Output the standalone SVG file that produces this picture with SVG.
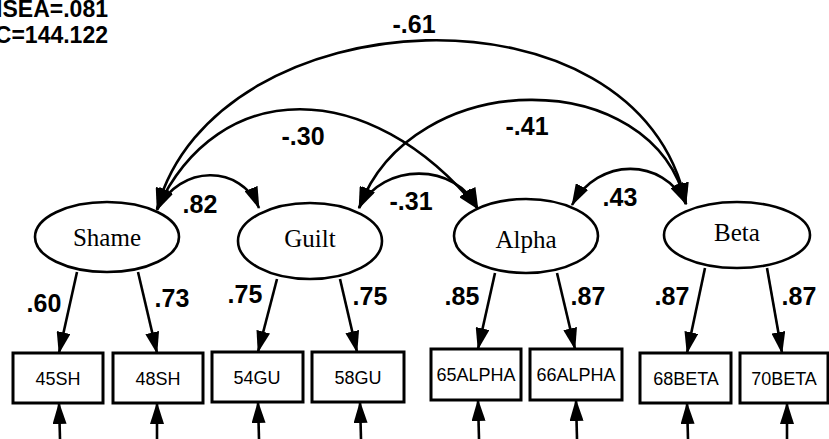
<svg xmlns="http://www.w3.org/2000/svg" width="829" height="439" viewBox="0 0 829 439">
<style>
.lat{fill:#fff;stroke:#000;stroke-width:2.6}
.obs{fill:#fff;stroke:#000;stroke-width:3}
.ln{fill:#000;font-family:"Times New Roman","Liberation Serif",serif;font-size:25px;text-anchor:middle}
.on{fill:#000;font-family:"Liberation Sans",Arial,sans-serif;font-size:18px;text-anchor:middle}
.num{fill:#000;font-family:"Liberation Sans",Arial,sans-serif;font-size:25px;font-weight:bold;text-anchor:middle}
.fit{fill:#000;font-family:"Liberation Sans",Arial,sans-serif;font-size:23px;font-weight:bold;text-anchor:end}
.c{fill:none;stroke:#000;stroke-width:2.6}
.cv{marker-start:url(#ah);marker-end:url(#ah)}
.ar{marker-end:url(#ah)}
</style>
<defs>
<marker id="ah" viewBox="0 0 22 14" refX="21" refY="7" markerWidth="22" markerHeight="14" markerUnits="userSpaceOnUse" orient="auto-start-reverse">
<path d="M0,0 L22,7 L0,14 z" fill="#000"/>
</marker>
</defs>
<rect width="829" height="439" fill="#fff"/>
<g id="fit-indices">
<text class="fit" x="108" y="17">RMSEA=.081</text>
<text class="fit" x="108" y="43">AIC=144.122</text>
</g>
<g id="connectors">
<path class="c cv" d="M157,209 C215,-5 640,-25 686,204"/>
<path class="c cv" d="M157,209 C219,76 369,76 478,209"/>
<path class="c cv" d="M359,208 C412,65 653,64 686,204"/>
<path class="c cv" d="M157,210 C180,164 241,164 259,208"/>
<path class="c cv" d="M359,208 C383,162 456,162 478,209"/>
<path class="c cv" d="M572,205 C598,157 663,157 686,204"/>
<path class="c ar" d="M77,272 L59,353"/>
<path class="c ar" d="M138,272 L157,353"/>
<path class="c ar" d="M277,279 L258,352"/>
<path class="c ar" d="M340,279 L357,352"/>
<path class="c ar" d="M495,273 L478,349"/>
<path class="c ar" d="M557,273 L575,349"/>
<path class="c ar" d="M705,268 L687,353"/>
<path class="c ar" d="M767,268 L782,353"/>
<path class="c ar" d="M60,439 L59,403"/>
<path class="c ar" d="M157,439 L157,403"/>
<path class="c ar" d="M259,439 L258,402"/>
<path class="c ar" d="M361,439 L360,402"/>
<path class="c ar" d="M479,439 L478,400"/>
<path class="c ar" d="M577,439 L576,400"/>
<path class="c ar" d="M688,439 L687,403"/>
<path class="c ar" d="M787,439 L787,403"/>
<text class="num" x="414" y="33">-.61</text>
<text class="num" x="303" y="145">-.30</text>
<text class="num" x="527" y="135">-.41</text>
<text class="num" x="200" y="213">.82</text>
<text class="num" x="411" y="210">-.31</text>
<text class="num" x="620" y="206">.43</text>
<text class="num" x="44" y="312">.60</text>
<text class="num" x="172" y="307">.73</text>
<text class="num" x="245" y="303">.75</text>
<text class="num" x="370" y="305">.75</text>
<text class="num" x="462" y="305">.85</text>
<text class="num" x="588" y="305">.87</text>
<text class="num" x="672" y="305">.87</text>
<text class="num" x="799" y="305">.87</text>
</g>
<g id="Shame"><ellipse class="lat" cx="107" cy="237" rx="72" ry="35"/><text class="ln" x="107" y="246">Shame</text></g>
<g id="Guilt"><ellipse class="lat" cx="310" cy="241" rx="72" ry="38"/><text class="ln" x="310" y="247">Guilt</text></g>
<g id="Alpha"><ellipse class="lat" cx="526" cy="236" rx="72" ry="37"/><text class="ln" x="526" y="248">Alpha</text></g>
<g id="Beta"><ellipse class="lat" cx="737" cy="235" rx="73" ry="33"/><text class="ln" x="737" y="241">Beta</text></g>
<g id="x45SH"><rect class="obs" x="13" y="353" width="90" height="50"/><text class="on" x="58" y="385">45SH</text></g>
<g id="x48SH"><rect class="obs" x="113" y="353" width="90" height="50"/><text class="on" x="158" y="385">48SH</text></g>
<g id="x54GU"><rect class="obs" x="212" y="352" width="91" height="50"/><text class="on" x="257" y="384">54GU</text></g>
<g id="x58GU"><rect class="obs" x="312" y="352" width="92" height="50"/><text class="on" x="358" y="384">58GU</text></g>
<g id="x65ALPHA"><rect class="obs" x="431" y="349" width="90" height="51"/><text class="on" x="476" y="381">65ALPHA</text></g>
<g id="x66ALPHA"><rect class="obs" x="530" y="349" width="92" height="51"/><text class="on" x="576" y="381">66ALPHA</text></g>
<g id="x68BETA"><rect class="obs" x="640" y="353" width="91" height="50"/><text class="on" x="686" y="385">68BETA</text></g>
<g id="x70BETA"><rect class="obs" x="740" y="353" width="88" height="50"/><text class="on" x="784" y="385">70BETA</text></g>
</svg>
